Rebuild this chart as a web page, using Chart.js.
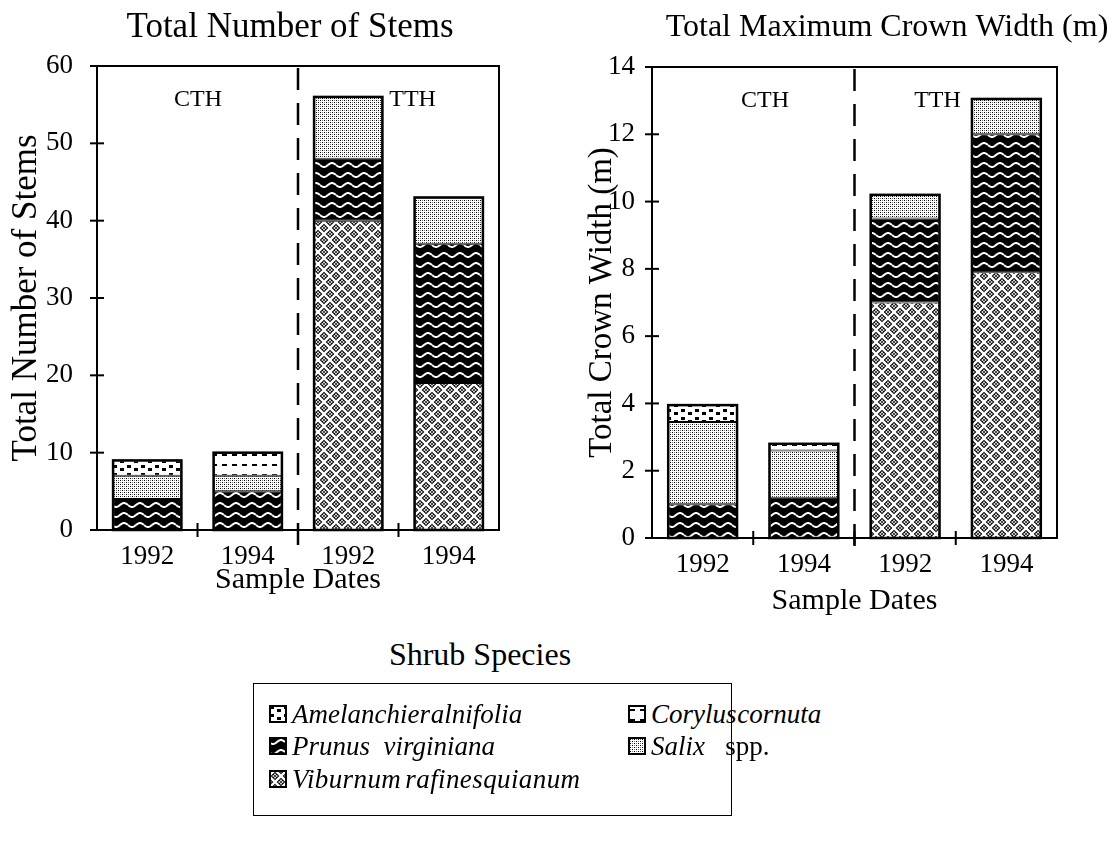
<!DOCTYPE html>
<html>
<head>
<meta charset="utf-8">
<script src="https://cdn.jsdelivr.net/npm/chart.js@4.4.1/dist/chart.umd.min.js"></script>
<style>
  html, body { margin: 0; padding: 0; background: #fff; }
  body { width: 1113px; height: 846px; position: relative; overflow: hidden;
         font-family: 'Liberation Serif', 'Times New Roman', serif; color: #000; }
  #stems { position: absolute; left: 0; top: 0; }
  #crown { position: absolute; left: 540px; top: 0; }
  #legendTitle { position: absolute; left: 240px; width: 480px; top: 636px;
                 text-align: center; font-size: 32px; line-height: 36px; }
  #legendBox { position: absolute; left: 253px; top: 683px; width: 477px; height: 131px;
               border: 1.5px solid #000; }
  .item { position: absolute; height: 28px; display: flex; align-items: center;
          font-size: 27px; white-space: pre; }
  .item canvas { width: 18px; height: 18px; margin-right: 5px; box-sizing: border-box; }
  .tight { word-spacing: -6px; }
  .wide { letter-spacing: 0.4px; word-spacing: -3px; }
</style>
</head>
<body>
<canvas id="stems" width="520" height="610"></canvas>
<canvas id="crown" width="573" height="620"></canvas>

<div id="legendTitle">Shrub Species</div>
<div id="legendBox">
  <div class="item" style="left:15px;top:16px"><canvas width="18" height="18" data-sp="amelanchier"></canvas><i class="tight">Amelanchier alnifolia</i></div>
  <div class="item" style="left:15px;top:48px"><canvas width="18" height="18" data-sp="prunus"></canvas><i>Prunus&#160;&#160;virginiana</i></div>
  <div class="item" style="left:15px;top:81px"><canvas width="18" height="18" data-sp="viburnum"></canvas><i class="wide">Viburnum rafinesquianum</i></div>
  <div class="item" style="left:374px;top:16px"><canvas width="18" height="18" data-sp="corylus"></canvas><i class="tight">Corylus cornuta</i></div>
  <div class="item" style="left:374px;top:48px"><canvas width="18" height="18" data-sp="salix"></canvas><i>Salix</i>&#160;&#160;&#160;spp.</div>
</div>

<script>
// ---- data -------------------------------------------------------------
const sampleDates = ['1992', '1994', '1992', '1994'];
const siteNames = ['CTH', 'TTH'];

// Total number of stems (CTH 1992, CTH 1994, TTH 1992, TTH 1994)
const viburnumStems    = [null, null, 40, 19];
const prunusStems      = [4, 5, 8, 18];
const salixStems       = [3, 2, 8, 6];
const corylusStems     = [null, 3, null, null];
const amelanchierStems = [2, null, null, null];

// Total maximum crown width, m
const viburnumCrown    = [null, null, 7.0, 7.9];
const prunusCrown      = [1.0, 1.2, 2.5, 4.1];
const salixCrown       = [2.45, 1.4, 0.7, 1.05];
const corylusCrown     = [null, 0.2, null, null];
const amelanchierCrown = [0.5, null, null, null];

const SERIF = "'Liberation Serif', 'Times New Roman', serif";

// ---- fill patterns ------------------------------------------------------
function tile(w, h, bg, paint) {
  const c = document.createElement('canvas');
  c.width = w; c.height = h;
  const g = c.getContext('2d');
  g.fillStyle = bg; g.fillRect(0, 0, w, h);
  paint(g);
  return c;
}
const tiles = {
  viburnum: tile(12, 12, '#fff', g => {
    const centres = [[0,0],[12,0],[0,12],[12,12],[6,6]];
    centres.forEach(([cx, cy]) => {
      g.fillStyle = '#000';
      g.beginPath();
      g.moveTo(cx, cy - 4.3); g.lineTo(cx + 4.3, cy); g.lineTo(cx, cy + 4.3); g.lineTo(cx - 4.3, cy);
      g.closePath(); g.fill();
      g.fillStyle = '#fff';
      [[-1.6,0],[1.6,0],[0,-1.6],[0,1.6]].forEach(([dx, dy]) => g.fillRect(cx + dx - 0.8, cy + dy - 0.8, 1.6, 1.6));
    });
  }),
  prunus: tile(16, 10, '#000', g => {
    g.strokeStyle = '#fff'; g.lineWidth = 2;
    g.beginPath();
    for (let x = 0; x <= 16; x += 0.5) {
      const yy = 5 + 2 * Math.sin(2 * Math.PI * x / 16);
      if (x === 0) g.moveTo(x, yy); else g.lineTo(x, yy);
    }
    g.stroke();
  }),
  salix: tile(4, 4, '#fff', g => {
    g.fillStyle = '#000'; g.fillRect(0, 0, 1, 1); g.fillRect(2, 2, 1, 1);
    g.fillStyle = '#777'; g.fillRect(2, 0, 1, 1); g.fillRect(0, 2, 1, 1);
  }),
  corylus: tile(10, 10, '#fff', g => {
    g.fillStyle = '#000'; g.fillRect(2, 4, 5, 2);
  }),
  amelanchier: tile(14, 8, '#fff', g => {
    g.fillStyle = '#000'; g.fillRect(1, 1, 4, 3); g.fillRect(8, 4, 4, 3);
  })
};
const scratch = document.createElement('canvas').getContext('2d');
const fill = {};
Object.keys(tiles).forEach(k => { fill[k] = scratch.createPattern(tiles[k], 'repeat'); });

// ---- legend swatches ----------------------------------------------------
document.querySelectorAll('#legendBox canvas').forEach(cv => {
  const g = cv.getContext('2d');
  g.fillStyle = g.createPattern(tiles[cv.dataset.sp], 'repeat');
  g.fillRect(0, 0, cv.width, cv.height);
  g.strokeStyle = '#000'; g.lineWidth = 2;
  g.strokeRect(1, 1, cv.width - 2, cv.height - 2);
});

// ---- frame, ticks, separator, stack outlines, panel titles --------------
const panelDecor = {
  id: 'panelDecor',
  afterDatasetsDraw(chart, args, o) {
    const { ctx, chartArea: a, scales: { x, y } } = chart;
    const line = (x1, y1, x2, y2) => { ctx.beginPath(); ctx.moveTo(x1, y1); ctx.lineTo(x2, y2); ctx.stroke(); };
    ctx.save();
    ctx.strokeStyle = '#000';
    ctx.fillStyle = '#000';

    // outline around each stacked column
    const n = chart.data.labels.length;
    ctx.lineWidth = 2.5;
    for (let i = 0; i < n; i++) {
      let top = Infinity, bottom = -Infinity, cx = null, w = 0;
      chart.data.datasets.forEach((ds, d) => {
        if (ds.data[i] == null) return;
        const el = chart.getDatasetMeta(d).data[i];
        top = Math.min(top, el.y, el.base);
        bottom = Math.max(bottom, el.y, el.base);
        cx = el.x; w = el.width;
      });
      if (cx !== null) ctx.strokeRect(cx - w / 2, top, w, bottom - top);
    }

    // plot frame
    ctx.lineWidth = 2;
    ctx.strokeRect(a.left, a.top, a.right - a.left, a.bottom - a.top);

    // tick marks crossing the axes
    y.ticks.forEach(t => { const py = y.getPixelForValue(t.value); line(a.left - 7, py, a.left + 7, py); });
    for (let i = 0; i < n - 1; i++) {
      const px = (x.getPixelForValue(i) + x.getPixelForValue(i + 1)) / 2;
      line(px, a.bottom - 7, px, a.bottom + 7);
    }

    // dashed separator between the two sites
    const sx = (x.getPixelForValue(1) + x.getPixelForValue(2)) / 2;
    ctx.lineWidth = 2.5;
    ctx.setLineDash([22, 13]);
    line(sx, a.top + 2, sx, a.bottom + 16);
    ctx.setLineDash([]);

    // site names
    ctx.textAlign = 'center';
    ctx.textBaseline = 'middle';
    ctx.font = '24px ' + SERIF;
    o.sites.forEach((s, k) => ctx.fillText(siteNames[k], x.getPixelForValue(s), a.top + o.siteOffset));

    // panel title
    ctx.font = o.titleSize + 'px ' + SERIF;
    ctx.fillText(o.title, o.titleX, o.titleY);
    ctx.restore();
  }
};

function datasets(vib, pru, sal, cor, ame) {
  const common = { borderColor: '#000', borderWidth: 1, borderSkipped: false,
                   categoryPercentage: 0.68, barPercentage: 1, stack: 'all' };
  return [
    Object.assign({ label: 'Viburnum rafinesquianum', data: vib, backgroundColor: fill.viburnum }, common),
    Object.assign({ label: 'Prunus virginiana', data: pru, backgroundColor: fill.prunus }, common),
    Object.assign({ label: 'Salix spp.', data: sal, backgroundColor: fill.salix }, common),
    Object.assign({ label: 'Corylus cornuta', data: cor, backgroundColor: fill.corylus }, common),
    Object.assign({ label: 'Amelanchier alnifolia', data: ame, backgroundColor: fill.amelanchier }, common)
  ];
}

function panel(canvasId, sets, cfg) {
  const tickFont = { family: SERIF, size: 27 };
  return new Chart(document.getElementById(canvasId), {
    type: 'bar',
    data: { labels: sampleDates, datasets: sets },
    plugins: [panelDecor],
    options: {
      responsive: false,
      animation: false,
      devicePixelRatio: 1,
      layout: { padding: cfg.padding },
      plugins: {
        legend: { display: false },
        tooltip: { enabled: false },
        panelDecor: cfg.decor
      },
      scales: {
        x: {
          stacked: true,
          grid: { display: false, drawTicks: false },
          border: { display: false },
          ticks: { color: '#000', font: tickFont, padding: cfg.xTickPad, maxRotation: 0 },
          title: { display: true, text: 'Sample Dates', color: '#000', font: { family: SERIF, size: 30 },
                   padding: { top: 0, bottom: cfg.xTitlePad } },
          afterFit(s) { s.height = cfg.xHeight; }
        },
        y: {
          stacked: true,
          min: 0, max: cfg.yMax,
          grid: { display: false, drawTicks: false },
          border: { display: false },
          ticks: { stepSize: cfg.yStep, color: '#000', font: tickFont, padding: cfg.yTickPad },
          title: { display: true, text: cfg.yTitle, color: '#000', font: { family: SERIF, size: cfg.yTitleSize },
                   padding: { top: cfg.yTitlePad, bottom: 0 } },
          afterFit(s) { s.width = cfg.yWidth; }
        }
      }
    }
  });
}

panel('stems',
  datasets(viburnumStems, prunusStems, salixStems, corylusStems, amelanchierStems),
  {
    padding: { top: 66, right: 21, left: 0, bottom: 0 },
    yMax: 60, yStep: 10, yTitle: 'Total Number of Stems', yTitleSize: 35,
    yWidth: 97, yTickPad: 24, yTitlePad: 6,
    xHeight: 80, xTickPad: 11, xTitlePad: 12,
    decor: { title: 'Total Number of Stems', titleSize: 35, titleX: 290, titleY: 28, sites: [0.505, 2.64], siteOffset: 34 }
  });

panel('crown',
  datasets(viburnumCrown, prunusCrown, salixCrown, corylusCrown, amelanchierCrown),
  {
    padding: { top: 67, right: 56, left: 0, bottom: 0 },
    yMax: 14, yStep: 2, yTitle: 'Total Crown Width (m)', yTitleSize: 33,
    yWidth: 112, yTickPad: 17, yTitlePad: 43,
    xHeight: 82, xTickPad: 11, xTitlePad: 1,
    decor: { title: 'Total Maximum Crown Width (m)', titleSize: 32, titleX: 347, titleY: 28, sites: [0.616, 2.32], siteOffset: 34 }
  });
</script>
</body>
</html>
